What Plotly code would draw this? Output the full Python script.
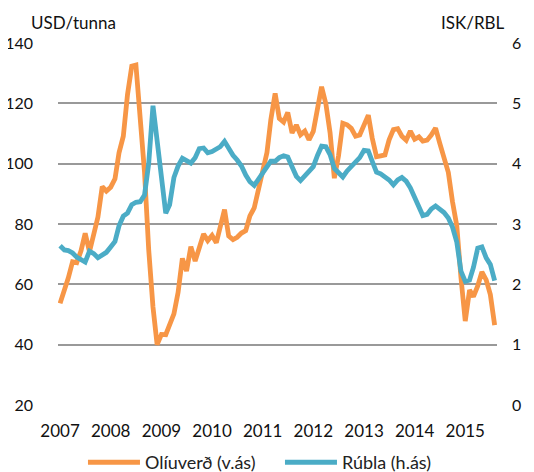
import pandas as pd
import plotly.graph_objects as go

# Monthly series, Jan 2007 - Aug 2015
months = pd.date_range("2007-01-01", "2015-08-01", freq="MS")

oil_usd = [
    53.7, 57.6, 62.1, 67.5, 67.2, 71.1, 76.9, 70.8, 77.2, 82.3, 92.4, 90.9,      # 2007
    92.2, 95.0, 103.6, 109.1, 122.8, 132.3, 132.7, 113.2, 97.2, 71.6, 52.5, 40.0,  # 2008
    43.4, 43.3, 46.5, 50.2, 57.3, 68.6, 64.4, 72.5, 67.7, 72.8, 76.7, 74.5,      # 2009
    76.2, 73.8, 78.8, 84.8, 76.0, 74.8, 75.6, 77.0, 77.8, 82.7, 85.3, 91.5,      # 2010
    96.5, 103.7, 114.6, 123.3, 115.0, 113.8, 117.0, 110.2, 112.8, 109.6, 110.8, 107.9,  # 2011
    110.7, 119.3, 125.5, 119.8, 110.3, 95.2, 102.6, 113.4, 112.9, 111.7, 109.1, 109.5,  # 2012
    113.0, 116.1, 108.5, 102.3, 102.6, 102.9, 107.9, 111.3, 111.6, 109.1, 107.8, 110.8,  # 2013
    108.1, 108.9, 107.5, 107.8, 109.5, 111.8, 106.8, 101.6, 97.1, 87.4, 79.4, 62.3,  # 2014
    47.8, 58.1, 55.9, 59.5, 64.1, 61.5, 56.6, 46.5,                               # 2015
]

isk_rbl = [
    2.64, 2.57, 2.56, 2.52, 2.45, 2.41, 2.37, 2.55, 2.51, 2.44, 2.48, 2.53,  # 2007
    2.62, 2.71, 2.97, 3.13, 3.18, 3.32, 3.36, 3.37, 3.48, 4.00, 4.96, 4.38,  # 2008
    3.75, 3.18, 3.32, 3.77, 3.96, 4.09, 4.05, 4.01, 4.10, 4.25, 4.26, 4.18,  # 2009
    4.20, 4.25, 4.28, 4.37, 4.25, 4.14, 4.06, 3.96, 3.81, 3.70, 3.64, 3.74,  # 2010
    3.86, 3.97, 4.04, 4.04, 4.10, 4.13, 4.11, 3.95, 3.79, 3.72, 3.79, 3.86,  # 2011
    3.95, 4.14, 4.29, 4.28, 4.15, 3.92, 3.84, 3.78, 3.88, 3.96, 4.03, 4.10,  # 2012
    4.22, 4.21, 4.04, 3.86, 3.83, 3.78, 3.73, 3.65, 3.73, 3.77, 3.71, 3.60,  # 2013
    3.45, 3.29, 3.14, 3.16, 3.25, 3.30, 3.25, 3.19, 3.10, 2.95, 2.70, 2.22,  # 2014
    2.05, 2.07, 2.28, 2.60, 2.62, 2.44, 2.33, 2.06,                          # 2015
]

ORANGE = "#F79646"
BLUE = "#4BACC6"
FONT = "Lato"

fig = go.Figure()
fig.add_trace(go.Scatter(
    x=months, y=oil_usd, name="Olíuverð (v.ás)",
    mode="lines", line=dict(color=ORANGE, width=4.8),
))
fig.add_trace(go.Scatter(
    x=months, y=isk_rbl, name="Rúbla (h.ás)", yaxis="y2",
    mode="lines", line=dict(color=BLUE, width=4.8),
))

# page body adds an 8px offset, margins below account for it
fig.update_layout(
    width=534, height=472,
    paper_bgcolor="white", plot_bgcolor="white",
    margin=dict(l=50, r=45, t=35, b=75),
    font=dict(family=FONT, size=17, color="#111"),
    xaxis=dict(
        type="date", automargin=False,
        range=["2006-12-17", "2015-08-18"],
        tick0="2007-01-01", dtick="M12", tickformat="%Y",
        showgrid=False, showline=False, zeroline=False,
        ticks="", ticklabelstandoff=14,
    ),
    yaxis=dict(
        range=[20, 140], dtick=20, automargin=False,
        showgrid=True, gridcolor="#999999", gridwidth=1.5,
        zeroline=False, showline=False, ticks="",
        ticklabelstandoff=24, ticklabeloverflow="allow", tickfont=dict(size=16),
    ),
    yaxis2=dict(
        range=[0, 6], dtick=1, overlaying="y", side="right", automargin=False,
        showgrid=False, zeroline=False, showline=False, ticks="",
        ticklabelstandoff=14, ticklabeloverflow="allow", tickfont=dict(size=16),
    ),
    legend=dict(
        orientation="h",
        xref="container", x=0.1404, xanchor="left",
        yref="container", y=0.037, yanchor="middle",
        font=dict(size=18, color="#222"), itemwidth=52, entrywidth=130,
    ),
    annotations=[
        dict(text="USD/tunna", xref="paper", yref="paper", x=-0.066, y=1.058,
             xanchor="left", yanchor="middle", showarrow=False),
        dict(text="ISK/RBL", xref="paper", yref="paper", x=1.023, y=1.058,
             xanchor="right", yanchor="middle", showarrow=False),
    ],
)

fig.write_html("out.html")
